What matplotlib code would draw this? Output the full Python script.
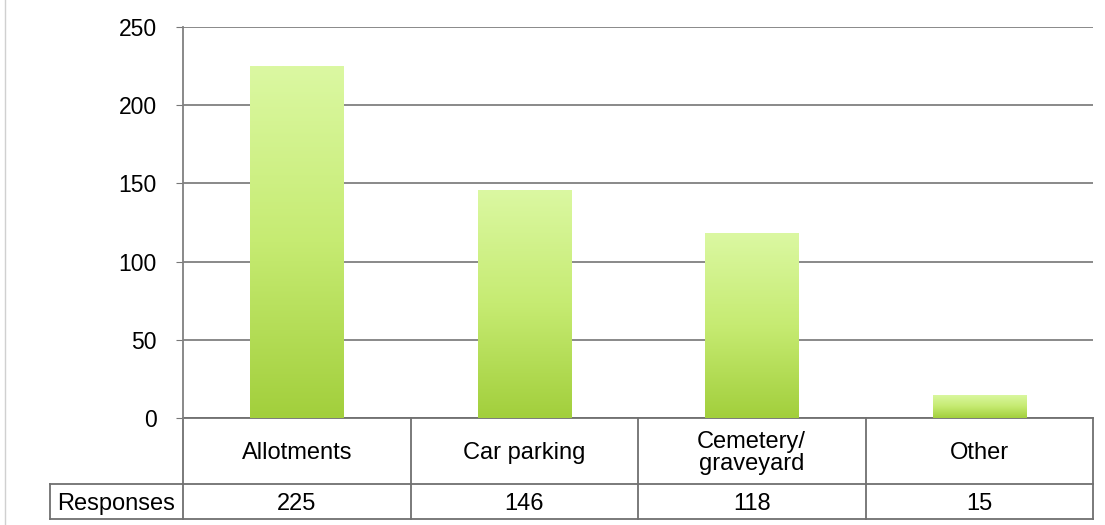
import numpy as np
import matplotlib.pyplot as plt
import matplotlib.transforms as mtransforms
from matplotlib.colors import LinearSegmentedColormap

plt.rcParams['font.family'] = ['Liberation Sans', 'DejaVu Sans']

categories = ['Allotments', 'Car parking', 'Cemetery/\ngraveyard', 'Other']
responses = [225, 146, 118, 15]
row_label = 'Responses'
yticks = [0, 50, 100, 150, 200, 250]

W, H = 1105, 525
fig = plt.figure(figsize=(W / 100, H / 100), dpi=100)
ax = fig.add_axes([183 / W, (H - 418) / H, (1093 - 183) / W, (418 - 27) / H])

x = np.arange(len(categories))
bars = ax.bar(x, responses, width=0.41, color='none', edgecolor='none', zorder=3)

# vertical green gradient inside each bar
green = LinearSegmentedColormap.from_list('g', ['#a2cf3c', '#c6eb72', '#dbf8a2'])
grad = np.linspace(0, 1, 256).reshape(-1, 1)
for b in bars:
    x0, y0 = b.get_x(), b.get_y()
    im = ax.imshow(grad, cmap=green, origin='lower', aspect='auto',
                   extent=[x0, x0 + b.get_width(), y0, y0 + b.get_height()], zorder=3)
    im.set_clip_path(b)

ax.set_xlim(-0.5, len(categories) - 0.5)
ax.set_ylim(0, 250)
ax.set_yticks(yticks)
ax.tick_params(axis='y', labelsize=16.5, length=5, color='#777777', pad=14)
ax.set_xticks([])
ax.yaxis.grid(True, color='#808080', linewidth=1.3, zorder=0)
ax.set_axisbelow(True)
for s in ['top', 'right', 'bottom']:
    ax.spines[s].set_visible(False)
ax.spines['left'].set_color('#808080')
ax.spines['left'].set_linewidth(1.3)

# data table underneath: x in data units, y in axes units
tr = mtransforms.blended_transform_factory(ax.transData, ax.transAxes)
px_h = 418 - 27
y_mid = -(484 - 418) / px_h   # line between category row and value row
y_bot = -(519 - 418) / px_h
x_lab = -0.5 - (183 - 50) / 227.5   # left edge of the row-label column
lc = dict(color='#707070', linewidth=1.3, transform=tr, clip_on=False)

ax.plot([-0.5, len(categories) - 0.5], [0, 0], **lc)
ax.plot([x_lab, len(categories) - 0.5], [y_mid, y_mid], **lc)
ax.plot([x_lab, len(categories) - 0.5], [y_bot, y_bot], **lc)
ax.plot([x_lab, x_lab], [y_mid, y_bot], **lc)
for i in range(len(categories) + 1):
    ax.plot([i - 0.5, i - 0.5], [0, y_bot], **lc)

y_cat = -(453 - 418) / px_h
y_val = -(504 - 418) / px_h
for i, (cat, v) in enumerate(zip(categories, responses)):
    ax.text(i, y_cat, cat, transform=tr, ha='center', va='center',
            fontsize=17, linespacing=1.0)
    ax.text(i, y_val, str(v), transform=tr, ha='center', va='center',
            fontsize=17)
ax.text(x_lab + 0.03, y_val, row_label, transform=tr, ha='left',
        va='center', fontsize=17)

# thin frame line at the left edge of the picture
fig.add_artist(plt.Line2D([5 / W, 5 / W], [0, 1], color='#d0d0d0', linewidth=1))

fig.savefig('out.png', dpi=100)
